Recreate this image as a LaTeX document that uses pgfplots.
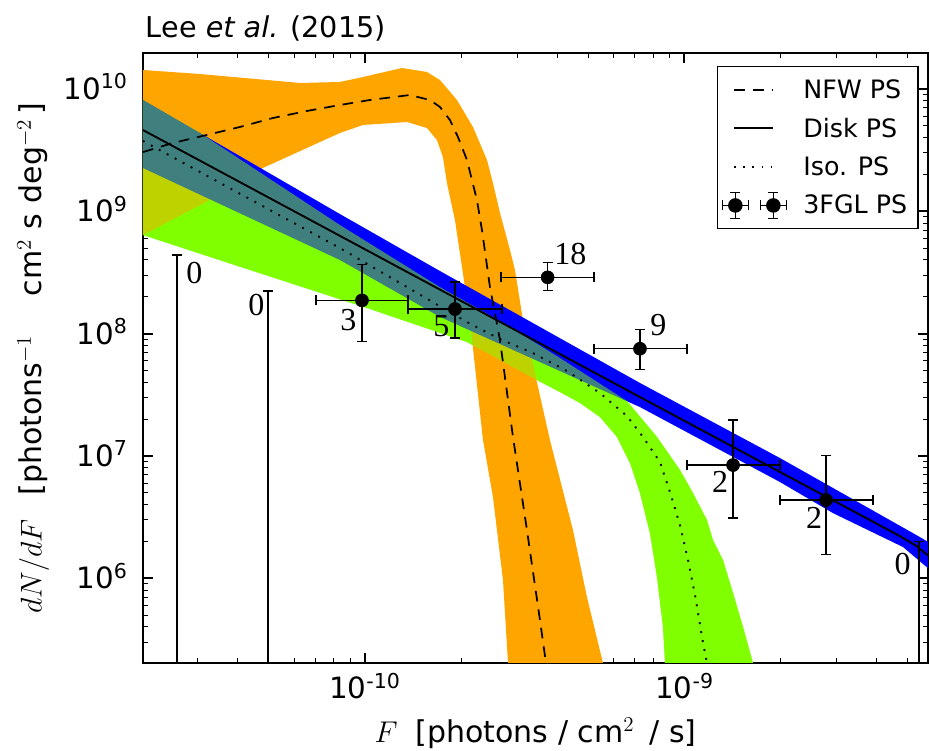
\RequirePackage{fix-cm}
\documentclass[border=0pt]{standalone}
\usepackage{fontspec}
\setmainfont{DejaVu Sans}
\newfontfamily\numfont{Liberation Serif}
\usepackage{pgfplots}
\pgfplotsset{compat=1.18}
\definecolor{cOrange}{RGB}{255,165,0}
\definecolor{cGreen}{RGB}{127,255,0}
\definecolor{cBlue}{RGB}{0,0,255}
\newcommand\tickfont{\fontsize{22}{26}\selectfont}
\newcommand\labfont{\fontsize{22.5}{27}\selectfont}
\newcommand\legfont{\fontsize{19}{23}\selectfont}
\newcommand\titfont{\fontsize{21.5}{26}\selectfont}
\newcommand\annfont{\numfont\fontsize{24}{28}\selectfont}
\begin{document}
\begin{tikzpicture}
\begin{axis}[
  name=ax, at={(0,0)}, anchor=south west,
  scale only axis, width=588.75pt, height=457.5pt,
  xmode=log, ymode=log,
  xmin=2.02e-11, xmax=5.78e-9, ymin=2.03e5, ymax=1.97e10,
  xtick={1e-10,1e-9},
  xticklabels={10\textsuperscript{-10},10\textsuperscript{-9}},
  ytick={1e6,1e7,1e8,1e9,1e10},
  yticklabels={10\textsuperscript{6},10\textsuperscript{7},10\textsuperscript{8},10\textsuperscript{9},10\textsuperscript{10}},
  minor xtick={3e-11,4e-11,5e-11,6e-11,7e-11,8e-11,9e-11,2e-10,3e-10,4e-10,5e-10,6e-10,7e-10,8e-10,9e-10,2e-9,3e-9,4e-9,5e-9},
  minor ytick={3e5,4e5,5e5,6e5,7e5,8e5,9e5,2e6,3e6,4e6,5e6,6e6,7e6,8e6,9e6,2e7,3e7,4e7,5e7,6e7,7e7,8e7,9e7,2e8,3e8,4e8,5e8,6e8,7e8,8e8,9e8,2e9,3e9,4e9,5e9,6e9,7e9,8e9,9e9},
  tick align=inside, tick pos=both,
  major tick length=7.5pt, minor tick length=3.75pt,
  every major tick/.append style={line width=1.5pt, black},
  every minor tick/.append style={line width=0.75pt, black},
  axis line style={line width=1.5pt},
  ticklabel style={font=\tickfont},
  xticklabel style={anchor=base, inner sep=0pt, yshift=-27pt},
  yticklabel style={anchor=base east, inner sep=0pt, xshift=-11.25pt, yshift=-7.9pt},
  legend style={at={(0.9885,0.9787)}, anchor=north east, draw=black, line width=1.1pt, fill=white,
    font=\legfont, inner xsep=8.25pt, inner ysep=9.5pt, row sep=13.2pt, nodes={inner sep=0pt}},
  legend cell align=left,
  legend image code/.code={\draw[#1] (0pt,0pt) -- (29.25pt,0pt); \path[draw=none,fill=none] (-4.5pt,-7pt) rectangle (51.75pt,7pt);},
]
% ---- Iso PS band (base, opaque)
\addplot[fill=cGreen, draw=none, forget plot] coordinates {
(2.02e-11,8.13e9) (2.98e-11,4.54e9) (8.35e-11,7.73e8) (1.717e-10,2.40e8) (2.646e-10,1.268e8)
(4.077e-10,6.32e7) (6.607e-10,2.81e7) (8.202e-10,1.43e7) (9.681e-10,7.67e6) (1.063e-9,4.97e6)
(1.176e-9,2.99e6) (1.228e-9,2.05e6) (1.320e-9,1.41e6) (1.419e-9,7.57e5) (1.525e-9,3.99e5)
(1.638e-9,2.03e5) (1.686e-9,1.5e5)
(8.753e-10,1.5e5) (8.690e-10,2.03e5) (8.565e-10,3.99e5) (8.202e-10,1.02e6) (7.798e-10,2.34e6)
(7.257e-10,4.97e6) (6.752e-10,8.75e6) (6.148e-10,1.43e7) (5.438e-10,2.08e7) (4.709e-10,2.71e7)
(4.077e-10,3.33e7) (3.356e-10,4.34e7) (2.646e-10,6.08e7) (2.086e-10,8.54e7) (1.0145e-10,1.62e8)
(4.37e-11,3.31e8) (2.02e-11,6.40e8)
} -- cycle;
% ---- NFW PS band
\addplot[fill=cOrange, draw=none, forget plot] coordinates {
(2.02e-11,1.43e10) (3.045e-11,1.326e10) (6.26e-11,1.12e10) (8.35e-11,1.141e10) (9.86e-11,1.253e10)
(1.306e-10,1.485e10) (1.563e-10,1.377e10) (1.717e-10,1.184e10) (1.941e-10,8.13e9) (2.178e-10,4.89e9)
(2.409e-10,2.63e9) (2.516e-10,1.70e9) (2.646e-10,9.69e8) (2.844e-10,4.83e8) (2.948e-10,3.31e8)
(3.123e-10,1.29e8) (3.793e-10,1.35e7) (4.477e-10,2.48e6) (4.952e-10,7.02e5) (5.557e-10,2.03e5)
(5.72e-10,1.5e5)
(2.844e-10,1.5e5) (2.804e-10,2.03e5) (2.704e-10,9.67e5) (2.516e-10,4.61e6) (2.341e-10,1.35e7)
(2.131e-10,1.29e8) (1.913e-10,8.49e8) (1.806e-10,1.70e9) (1.754e-10,2.78e9) (1.680e-10,3.83e9)
(1.563e-10,4.80e9) (1.354e-10,5.37e9) (9.86e-11,5.08e9) (8.35e-11,4.37e9) (4.79e-11,2.26e9)
(3.27e-11,1.237e9) (2.02e-11,6.40e8)
} -- cycle;
% ---- Disk PS band
\addplot[fill=cBlue, draw=none, forget plot] coordinates {
(2.02e-11,8.13e9) (8.35e-11,9.50e8) (1.717e-10,3.25e8) (7.257e-10,3.95e7) (1.991e-9,9.61e6)
(5.459e-9,2.17e6) (5.868e-9,1.94e6)
(5.868e-9,1.17e6) (4.831e-9,1.80e6) (2.916e-9,3.41e6) (1.991e-9,6.12e6) (7.257e-10,2.51e7)
(4.709e-10,4.17e7) (1.717e-10,1.37e8) (8.35e-11,4.00e8) (2.02e-11,2.26e9)
} -- cycle;
% ---- Iso PS band again, half transparent (gives the mixed overlaps)
\addplot[fill=cGreen, fill opacity=0.5, draw=none, forget plot] coordinates {
(2.02e-11,8.13e9) (2.98e-11,4.54e9) (8.35e-11,7.73e8) (1.717e-10,2.40e8) (2.646e-10,1.268e8)
(4.077e-10,6.32e7) (6.607e-10,2.81e7) (8.202e-10,1.43e7) (9.681e-10,7.67e6) (1.063e-9,4.97e6)
(1.176e-9,2.99e6) (1.228e-9,2.05e6) (1.320e-9,1.41e6) (1.419e-9,7.57e5) (1.525e-9,3.99e5)
(1.638e-9,2.03e5) (1.686e-9,1.5e5)
(8.753e-10,1.5e5) (8.690e-10,2.03e5) (8.565e-10,3.99e5) (8.202e-10,1.02e6) (7.798e-10,2.34e6)
(7.257e-10,4.97e6) (6.752e-10,8.75e6) (6.148e-10,1.43e7) (5.438e-10,2.08e7) (4.709e-10,2.71e7)
(4.077e-10,3.33e7) (3.356e-10,4.34e7) (2.646e-10,6.08e7) (2.086e-10,8.54e7) (1.0145e-10,1.62e8)
(4.37e-11,3.31e8) (2.02e-11,6.40e8)
} -- cycle;
% ---- median lines
\addplot[black, line width=1.3pt, dash pattern=on 8pt off 6pt] coordinates {
(2.02e-11,3.05e9) (2.506e-11,3.62e9) (3.20e-11,4.21e9) (4.06e-11,4.89e9) (5.15e-11,5.79e9)
(6.58e-11,6.61e9) (8.35e-11,7.40e9) (1.037e-10,8.13e9) (1.383e-10,8.93e9) (1.597e-10,8.13e9)
(1.717e-10,7.13e9) (1.845e-10,5.58e9) (1.955e-10,4.05e9) (2.086e-10,2.63e9) (2.241e-10,1.237e9)
(2.324e-10,7.03e8) (2.462e-10,2.40e8) (2.646e-10,8.87e7) (2.906e-10,1.43e7) (3.214e-10,2.48e6)
(3.530e-10,4.55e5) (3.686e-10,2.03e5) (3.74e-10,1.5e5)
};
\addlegendentry{NFW PS}
\addplot[black, line width=1.4pt] coordinates {
(2.02e-11,4.62e9) (7.257e-10,3.03e7) (4.725e-9,2.21e6) (5.265e-9,1.87e6) (5.868e-9,1.49e6)
};
\addlegendentry{Disk PS}
\addplot[black, line width=1.4pt, dash pattern=on 1.4pt off 5.4pt] coordinates {
(2.02e-11,3.76e9) (8.35e-11,5.01e8) (2.086e-10,1.244e8) (2.646e-10,9.03e7) (3.356e-10,6.94e7)
(4.288e-10,4.95e7) (5.438e-10,3.27e7) (6.607e-10,2.12e7) (7.416e-10,1.43e7) (8.381e-10,8.92e6)
(9.008e-10,5.07e6) (9.681e-10,2.72e6) (1.026e-9,1.41e6) (1.079e-9,7.29e5) (1.143e-9,2.95e5)
(1.176e-9,2.03e5) (1.185e-9,1.5e5)
};
\addlegendentry{Iso. PS}
% ---- 3FGL points
\addplot[black, only marks, mark=*, mark size=4.9pt, mark options={fill=black, draw=black},
  error bars/.cd, x dir=both, x explicit, y dir=both, y explicit,
  error mark=-,
  error bar style={line width=0.9pt, black},
  error mark options={rotate=90, line width=0.9pt, mark size=3.75pt, black},
  /pgfplots/legend image code/.code={
    \foreach \c in {0.75,29.25} {
      \draw[black, line width=0.9pt, overlay] (\c pt-9.75pt,0pt) -- (\c pt+9.75pt,0pt)
        (\c pt,-9.75pt) -- (\c pt,9.75pt)
        (\c pt-9.75pt,-3.75pt) -- (\c pt-9.75pt,3.75pt)
        (\c pt+9.75pt,-3.75pt) -- (\c pt+9.75pt,3.75pt)
        (\c pt-3.75pt,9.75pt) -- (\c pt+3.75pt,9.75pt)
        (\c pt-3.75pt,-9.75pt) -- (\c pt+3.75pt,-9.75pt);
      \fill[black, overlay] (\c pt,0pt) circle[radius=4.9pt];
    }
    \path[draw=none,fill=none] (-4.5pt,-7pt) rectangle (51.75pt,7pt);
  }]
table[x=x, y=y, x error minus=exm, x error plus=exp, y error minus=eym, y error plus=eyp] {
x         y        exm       exp       eym      eyp
9.79e-11  1.87e8   2.76e-11  3.85e-11  1.01e8   1.82e8
1.913e-10 1.589e8  5.49e-11  7.72e-11  6.68e7   1.051e8
3.73e-10  2.886e8  1.065e-10 1.478e-10 6.26e7   9.14e7
7.257e-10 7.53e7   2.049e-10 2.923e-10 2.43e7   3.31e7
1.419e-9  8.43e6   4.01e-10  5.72e-10  5.32e6   1.123e7
2.773e-9  4.36e6   7.82e-10  1.117e-9  2.792e6  5.68e6
};
\addlegendentry{3FGL PS}
% ---- bins with zero sources: upper limits only
\addplot[black, line width=0.9pt, forget plot] coordinates {(2.58e-11,1e5) (2.58e-11,4.39e8)};
\addplot[black, line width=0.9pt, forget plot] coordinates {(4.97e-11,1e5) (4.97e-11,2.23e8)};
\addplot[black, line width=0.9pt, forget plot] coordinates {(5.42e-9,1e5) (5.42e-9,2.01e6)};
\addplot[black, only marks, mark=-, mark size=3.75pt, mark options={line width=0.9pt}, forget plot]
  coordinates {(2.58e-11,4.39e8) (4.97e-11,2.23e8) (5.42e-9,2.01e6)};
% ---- source counts
\node[font=\annfont, inner sep=0pt] at (axis cs:2.926e-11,3.16e8) {0};
\node[font=\annfont, inner sep=0pt] at (axis cs:4.575e-11,1.713e8) {0};
\node[font=\annfont, inner sep=0pt] at (axis cs:8.88e-11,1.292e8) {3};
\node[font=\annfont, inner sep=0pt] at (axis cs:1.735e-10,1.154e8) {5};
\node[font=\annfont, inner sep=0pt] at (axis cs:4.398e-10,4.48e8) {18};
\node[font=\annfont, inner sep=0pt] at (axis cs:8.29e-10,1.176e8) {9};
\node[font=\annfont, inner sep=0pt] at (axis cs:1.292e-9,6.18e6) {2};
\node[font=\annfont, inner sep=0pt] at (axis cs:2.543e-9,3.14e6) {2};
\node[font=\annfont, inner sep=0pt] at (axis cs:4.814e-9,1.319e6) {0};
\end{axis}
\node[anchor=base west, inner sep=0pt, font=\titfont] at ([xshift=2pt,yshift=11.25pt]ax.north west) {Lee \textit{et al.} (2015)};
\node[rotate=90, anchor=base, inner sep=0pt, font=\labfont] at ([xshift=-76pt]ax.west)
  {$dN/dF$\hspace{0.8em}[photons$^{-1}$\hspace{1.3em}cm$^{2}$\hspace{0.35em}s\hspace{0.35em}deg$^{-2}$\,]};
\node[anchor=base, inner sep=0pt, font=\labfont] at ([yshift=-59.25pt]ax.south)
  {$F$\hspace{0.6em}[photons / cm$^{2}$\hspace{0.5em}/ s]};
\pgfresetboundingbox
\useasboundingbox ([shift={(-107.25pt,-65.25pt)}]ax.south west) rectangle ([shift={(1.5pt,39.75pt)}]ax.north east);
\end{tikzpicture}
\end{document}
